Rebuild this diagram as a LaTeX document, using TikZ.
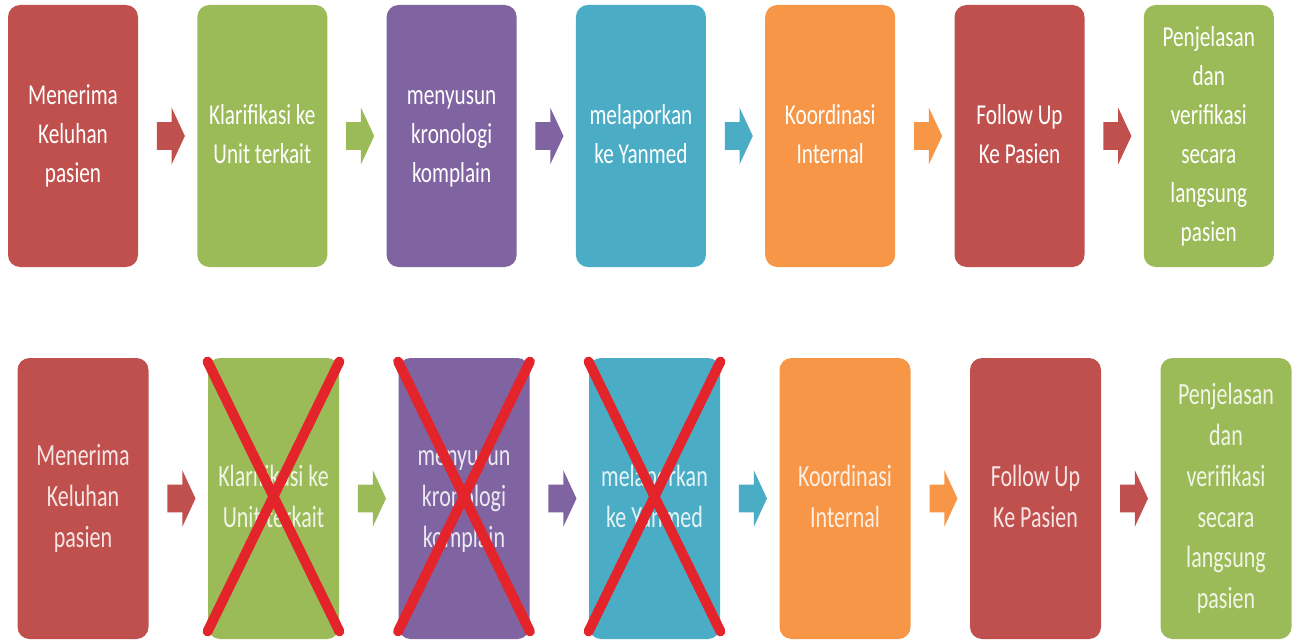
\documentclass[tikz,border=0pt]{standalone}
\usepackage{fontspec}
\setmainfont{Carlito}
\usetikzlibrary{shapes.arrows,calc}
\definecolor{merah}{HTML}{C0504D}
\definecolor{hijau}{HTML}{9BBB59}
\definecolor{ungu}{HTML}{8064A2}
\definecolor{biru}{HTML}{4BACC6}
\definecolor{oranye}{HTML}{F79646}
\definecolor{coret}{HTML}{E3242B}
% teks kotak, ditarik tegak agar mirip huruf aslinya
\newcommand\teks[2]{\scalebox{1}[#1]{\begin{tabular}{@{}c@{}}#2\end{tabular}}}
\begin{document}
\begin{tikzpicture}[x=0.5pt,y=-0.5pt]
    % Sumbu y dibalik, satu satuan = satu piksel gambar acuan.
    \tikzset{
      kotak/.style={fill=#1,rounded corners=6pt,inner sep=0pt,
        minimum width=65pt,minimum height=131pt,text=white,
        font=\fontsize{10.6}{14.3}\selectfont},
      kotakb/.style={kotak=#1,minimum width=65.5pt,minimum height=140.5pt,
        text=white!85!#1,font=\fontsize{11}{14.6}\selectfont},
      panah/.style={single arrow,fill=#1,inner xsep=0pt,inner ysep=6.75pt,
        minimum height=14pt,minimum width=28pt,
        single arrow head extend=7.25pt,single arrow tip angle=130},
      silang/.style={draw=coret,line width=5pt,line cap=round}}
    \useasboundingbox (0,0) rectangle (1296,642);
    % Baris atas (a) alur lengkap, baris bawah (b) alur ringkas.
    \foreach \i/\w/\isi in {
        1/merah/{Menerima\\Keluhan\\pasien},
        2/hijau/{Klarifikasi ke\\Unit terkait},
        3/ungu/{menyusun\\kronologi\\komplain},
        4/biru/{melaporkan\\ke Yanmed},
        5/oranye/{Koordinasi\\Internal},
        6/merah/{Follow Up\\Ke Pasien},
        7/hijau/{Penjelasan\\dan\\verifikasi\\secara\\langsung\\pasien}} {
      \node[kotak=\w] (a\i) at ({73+189.3*(\i-1)},136) {\teks{1.36}{\isi}};
      \node[kotakb=\w] (b\i) at ({83+190.5*(\i-1)},498.5) {\teks{1.4}{\isi}};
    }
    % Panah blok di antara kotak, warnanya ikut kotak sebelumnya
    \foreach \i/\w in {1/merah,2/hijau,3/ungu,4/biru,5/oranye,6/merah} {
      \pgfmathtruncatemacro\j{\i+1}
      \node[panah=\w] (pa\i) at ($(a\i.east)!0.5!(a\j.west)$) {};
      \node[panah=\w] (pb\i) at ($(b\i.east)!0.5!(b\j.west)$) {};
    }
    % Langkah yang dihapus pada baris bawah
    \foreach \i in {2,3,4} {
      \draw[silang] ([yshift=-2pt]b\i.north west) -- ([yshift=4pt]b\i.south east);
      \draw[silang] ([yshift=-2pt]b\i.north east) -- ([yshift=4pt]b\i.south west);
    }
  \end{tikzpicture}
\end{document}
